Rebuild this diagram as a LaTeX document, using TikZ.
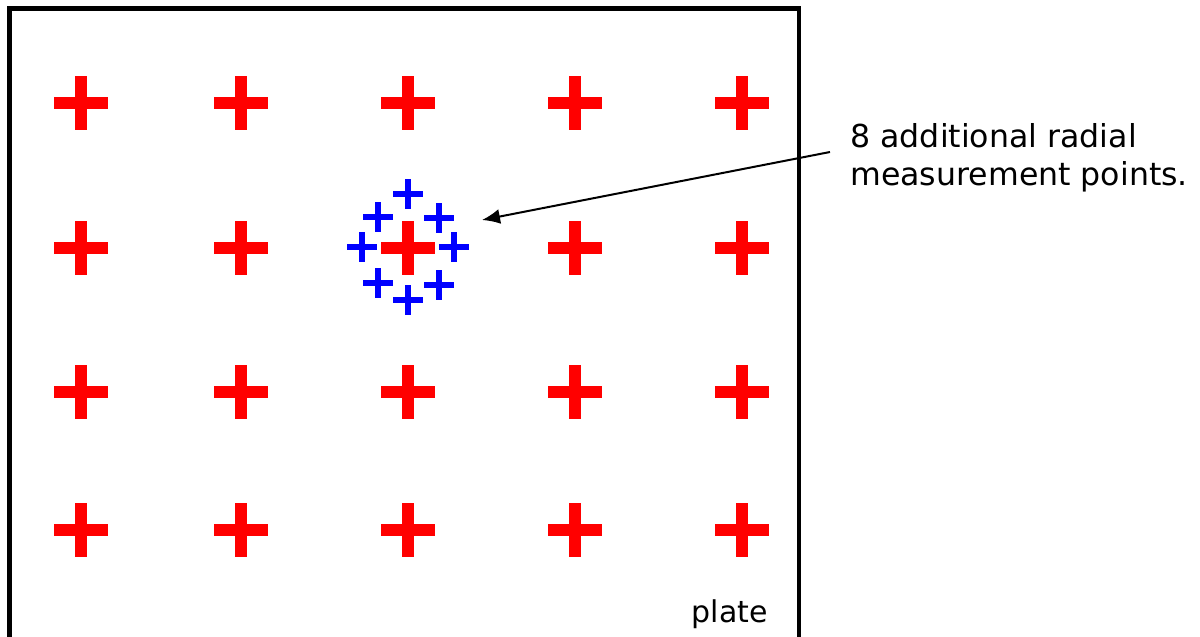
\documentclass[tikz,border=0pt]{standalone}
\usepackage{fontspec}
\setmainfont{DejaVu Sans}
\usetikzlibrary{arrows.meta}

\begin{document}
\begin{tikzpicture}[
    x=0.5pt, y=-0.5pt,
    >={Latex[length=9pt, width=7.5pt]},
    platebox/.style={draw=black, line width=2.2pt},
    gridcross/.pic={\fill[red] (-27,-6) rectangle (27,6); \fill[red] (-6,-27) rectangle (6,27);},
    radialcross/.pic={\fill[blue] (-15,-3.2) rectangle (15,3.2); \fill[blue] (-3.2,-15) rectangle (3.2,15);},
    notetext/.style={align=left, inner xsep=10pt, inner ysep=0pt, font=\fontsize{15.8}{19}\selectfont},
    platelabel/.style={inner sep=0pt, font=\fontsize{15}{18}\selectfont},
    notearrow/.style={->, line width=1pt}
]
\useasboundingbox (0,0) rectangle (1200,637);
\draw[platebox] (9.5,637) -- (9.5,8.3) -- (799,8.3) -- (799,637);

% measurement grid
\foreach \gx in {81,241,408,575,742}
  \foreach \gy in {103,248,392,530}
    \pic at (\gx,\gy) {gridcross};

% radial points round the centre one
\foreach \rx/\ry in {408/194, 439/218, 454/247, 439/285, 408/300, 378/283, 362/247, 378/217}
  \pic at (\rx,\ry) {radialcross};

\node[platelabel, anchor=base east] (plate) at (768,622) {plate};
\node[notetext, anchor=west] (note) at (830,158) {8 additional radial\\measurement points.};
\coordinate (radialtip) at (482,220);

\draw[notearrow] ([yshift=3pt]note.west) -- (radialtip);
\end{tikzpicture}
\end{document}
